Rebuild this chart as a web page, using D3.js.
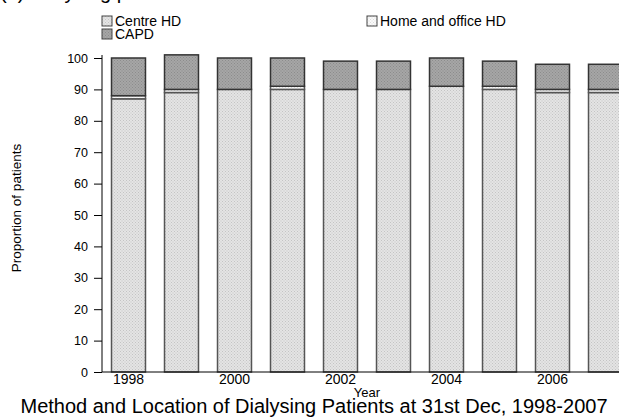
<!DOCTYPE html>
<html><head><meta charset="utf-8">
<script src="https://cdn.jsdelivr.net/npm/d3@7"></script>
<style>body{margin:0;background:#fff;} svg{display:block;font-family:Arial,"Liberation Sans",sans-serif;}</style>
</head><body>
<svg id="c" width="619" height="419"></svg>
<script>
const years = [1998,1999,2000,2001,2002,2003,2004,2005,2006,2007];
const centreHD = [87,89,90,90,90,90,91,90,89,89];
const homeHD   = [1,1,0,1,0,0,0,1,1,1];
const capd     = [12,11,10,9,9,9,9,8,8,8];
const seriesNames = ["Centre HD","Home and office HD","CAPD"];
const yTicks = [0,10,20,30,40,50,60,70,80,90,100];
const xTickYears = [1998,2000,2002,2004,2006];

const FONT = "Arial,'Liberation Sans',sans-serif";
const svg = d3.select("#c");
const defs = svg.append("defs");
function pat(id, bg, dot){
  const p = defs.append("pattern").attr("id",id).attr("width",3).attr("height",3).attr("patternUnits","userSpaceOnUse");
  p.append("rect").attr("width",3).attr("height",3).attr("fill",bg);
  p.append("rect").attr("x",0).attr("y",0).attr("width",1).attr("height",1).attr("fill",dot);
  p.append("rect").attr("x",1.5).attr("y",1.5).attr("width",1).attr("height",1).attr("fill",dot);
}
pat("pCentre","#e4e4e4","#c4c4c4");
pat("pHome","#fafafa","#dcdcdc");
pat("pCapd","#a6a6a6","#8c8c8c");
const fills = ["url(#pCentre)","url(#pHome)","url(#pCapd)"];
const strokes = ["#555","#555","#333"];

const x = d3.scaleBand().domain(years).range([102,632]).paddingInner(0.34).paddingOuter(0.17);
const y = d3.scaleLinear().domain([0,100]).range([372,58]);

const data = years.map((yr,i)=>({year:yr,"Centre HD":centreHD[i],"Home and office HD":homeHD[i],"CAPD":capd[i]}));
const stack = d3.stack().keys(seriesNames)(data);

// title (cut off at top)
svg.append("text").attr("x",0).attr("y",-1).attr("font-size",20).attr("fill","#000").text("(a) Dialysing patients");

// bars
stack.forEach((s,k)=>{
  svg.append("g").selectAll("rect").data(s).join("rect")
    .attr("x",d=>x(d.data.year)+0.5)
    .attr("y",d=>y(d[1]))
    .attr("width",x.bandwidth()-1)
    .attr("height",d=>Math.max(0,y(d[0])-y(d[1])))
    .attr("fill",fills[k])
    .attr("stroke",d=>(d[1]-d[0])>0?strokes[k]:"none")
    .attr("stroke-width",1.5);
});

// y axis
const ya = d3.axisLeft(y).tickValues(yTicks).tickSize(8).tickSizeOuter(0).tickPadding(6);
const yg = svg.append("g").attr("transform","translate(102,0)").call(ya);
yg.select(".domain").attr("stroke","#000").attr("d","M0,55V372");
yg.selectAll("text").attr("font-size",12.5).attr("font-family",FONT).attr("fill","#000");
yg.selectAll("line").attr("stroke","#000");

// x axis
const xa = d3.axisBottom(x).tickValues(xTickYears).tickSize(0).tickPadding(2);
const xg = svg.append("g").attr("transform","translate(0,372)").call(xa);
xg.select(".domain").attr("stroke","#000").attr("d","M102,0H619");
xg.selectAll("text").attr("font-size",14).attr("font-family",FONT).attr("fill","#000");

// axis titles
svg.append("text").attr("x",367).attr("y",397).attr("text-anchor","middle").attr("font-size",13).text("Year");
svg.append("text").attr("transform","translate(21,208) rotate(-90)").attr("text-anchor","middle").attr("font-size",13.5).text("Proportion of patients");

// legend
const leg = [{name:"Centre HD",fill:fills[0],x:102,y:16},{name:"CAPD",fill:fills[2],x:102,y:29},{name:"Home and office HD",fill:fills[1],x:367,y:16}];
const lg = svg.append("g").selectAll("g").data(leg).join("g").attr("transform",d=>`translate(${d.x},${d.y})`);
lg.append("rect").attr("width",10).attr("height",10).attr("fill",d=>d.fill).attr("stroke","#444").attr("stroke-width",1);
lg.append("text").attr("x",13).attr("y",9.5).attr("font-size",14).text(d=>d.name);

// bottom caption
svg.append("text").attr("x",314).attr("y",413).attr("text-anchor","middle").attr("font-size",20).text("Method and Location of Dialysing Patients at 31st Dec, 1998-2007");
</script>
</body></html>
